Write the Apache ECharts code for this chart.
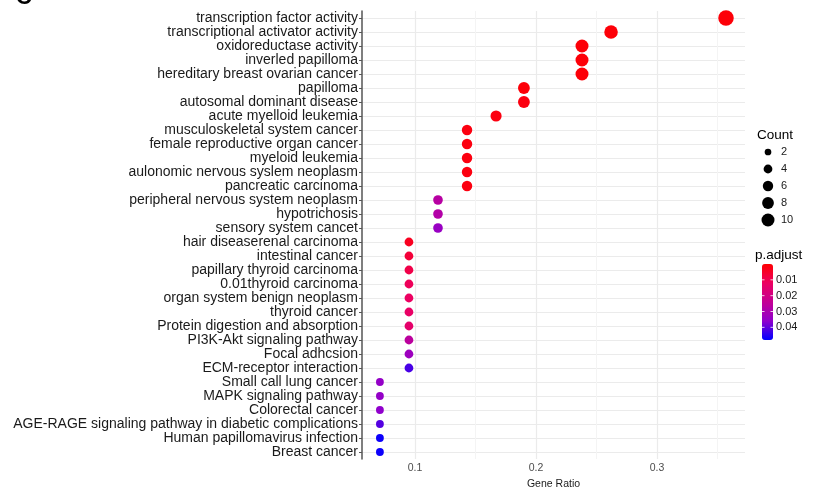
<!DOCTYPE html>
<html>
<head>
<meta charset="utf-8">
<script src="https://cdn.jsdelivr.net/npm/echarts@6/dist/echarts.min.js"></script>
<style>
html,body{margin:0;padding:0;background:#fff;}
#chart{width:813px;height:489px;}
</style>
</head>
<body>
<div id="chart"></div>
<script>
const categories = [
  "transcription factor activity",
  "transcriptional activator activity",
  "oxidoreductase activity",
  "inverled papilloma",
  "hereditary breast ovarian cancer",
  "papilloma",
  "autosomal dominant disease",
  "acute myelloid leukemia",
  "musculoskeletal system cancer",
  "female reproductive organ cancer",
  "myeloid leukemia",
  "aulonomic nervous syslem neoplasm",
  "pancreatic carcinoma",
  "peripheral nervous system neoplasm",
  "hypotrichosis",
  "sensory system cancet",
  "hair diseaserenal carcinoma",
  "intestinal cancer",
  "papillary thyroid carcinoma",
  "0.01thyroid carcinoma",
  "organ system benign neoplasm",
  "thyroid cancer",
  "Protein digestion and absorption",
  "PI3K-Akt signaling pathway",
  "Focal adhcsion",
  "ECM-receptor interaction",
  "Small call lung cancer",
  "MAPK signaling pathway",
  "Colorectal cancer",
  "AGE-RAGE signaling pathway in diabetic complications",
  "Human papillomavirus infection",
  "Breast cancer"
];
const geneRatio = [
  0.357, 0.262, 0.238, 0.238, 0.238, 0.190, 0.190, 0.167,
  0.143, 0.143, 0.143, 0.143, 0.143,
  0.119, 0.119, 0.119,
  0.095, 0.095, 0.095, 0.095, 0.095, 0.095, 0.095, 0.095, 0.095, 0.095,
  0.071, 0.071, 0.071, 0.071, 0.071, 0.071
];
const counts = [
  15, 11, 10, 10, 10, 8, 8, 7,
  6, 6, 6, 6, 6,
  5, 5, 5,
  4, 4, 4, 4, 4, 4, 4, 4, 4, 4,
  3, 3, 3, 3, 3, 3
];
const pAdjust = [
  0.001, 0.001, 0.001, 0.001, 0.001, 0.001, 0.002, 0.002,
  0.002, 0.002, 0.002, 0.002, 0.002,
  0.027, 0.028, 0.034,
  0.004, 0.007, 0.009, 0.011, 0.012, 0.013, 0.014, 0.026, 0.033, 0.042,
  0.035, 0.035, 0.036, 0.041, 0.047, 0.047
];
const xTicks = [0.1, 0.2, 0.3];
const xMinorTicks = [0.15, 0.25, 0.35];
const countBreaks = [2, 4, 6, 8, 10];
const pTicks = [0.01, 0.02, 0.03, 0.04];

const FONT = "'Liberation Sans', Arial, Helvetica, sans-serif";
const sizeOf = c => 1.6 + 3.6 * Math.sqrt(c);
const X_MIN = 0.0562, X_MAX = 0.3727;
const P_MIN = 0, P_MAX = 0.048;

const chart = echarts.init(document.getElementById('chart'), null, {renderer: 'canvas'});

const graphics = [];
// cut-off panel letter at top-left
graphics.push({type: 'text', x: 16, y: 9, style: {text: 'C', font: 'bold 22px ' + FONT, fill: '#000', verticalAlign: 'bottom'}});
// Count legend
graphics.push({type: 'text', x: 757, y: 135, style: {text: 'Count', font: '13.5px ' + FONT, fill: '#000', verticalAlign: 'middle'}});
const countY = [152, 169, 186, 203, 220];
countBreaks.forEach((c, i) => {
  graphics.push({type: 'circle', shape: {cx: 768, cy: countY[i], r: sizeOf(c) / 2}, style: {fill: '#000'}});
  graphics.push({type: 'text', x: 781, y: countY[i], style: {text: String(c), font: '11px ' + FONT, fill: '#1a1a1a', verticalAlign: 'middle'}});
});
// p.adjust legend
graphics.push({type: 'text', x: 755, y: 255, style: {text: 'p.adjust', font: '13.5px ' + FONT, fill: '#000', verticalAlign: 'middle'}});
const barTop = 264, barH = 76;
pTicks.forEach(p => {
  const y = barTop + (p - P_MIN) / (P_MAX - P_MIN) * barH;
  graphics.push({type: 'text', x: 776, y: y, style: {text: p.toFixed(2), font: '11px ' + FONT, fill: '#1a1a1a', verticalAlign: 'middle'}});
  graphics.push({type: 'line', shape: {x1: 762, y1: y, x2: 764.5, y2: y}, style: {stroke: '#fff', lineWidth: 0.8}, z: 100});
  graphics.push({type: 'line', shape: {x1: 770.5, y1: y, x2: 773, y2: y}, style: {stroke: '#fff', lineWidth: 0.8}, z: 100});
});

const option = {
  backgroundColor: '#fff',
  animation: false,
  grid: {left: 362, right: 68, top: 11, bottom: 30, containLabel: false, outerBoundsMode: 'none'},
  xAxis: [
    {
      type: 'value', min: X_MIN, max: X_MAX,
      axisLine: {show: false},
      axisTick: {show: false, customValues: xTicks},
      axisLabel: {customValues: xTicks, fontSize: 10.5, color: '#4d4d4d', margin: 4, fontFamily: FONT,
        formatter: v => v.toFixed(1)},
      splitLine: {show: true, lineStyle: {color: '#ebebeb', width: 1.2}},
      name: 'Gene Ratio', nameLocation: 'middle', nameGap: 18,
      nameTextStyle: {fontSize: 10.5, color: '#1a1a1a', fontFamily: FONT}
    },
    {
      type: 'value', min: X_MIN, max: X_MAX, position: 'bottom',
      axisLine: {show: false},
      axisTick: {show: false, customValues: xMinorTicks},
      axisLabel: {show: false, customValues: xMinorTicks},
      splitLine: {show: true, lineStyle: {color: '#f4f4f4', width: 1}}
    }
  ],
  yAxis: {
    type: 'category', data: categories, inverse: true,
    axisLine: {show: true, lineStyle: {color: '#555', width: 1.5}},
    axisTick: {show: true, length: 3, alignWithLabel: true, lineStyle: {color: '#555'}},
    axisLabel: {interval: 0, fontSize: 14, color: '#1a1a1a', margin: 4, fontFamily: FONT},
    splitLine: {show: true, alignWithLabel: true, lineStyle: {color: '#ebebeb', width: 1}}
  },
  visualMap: {
    type: 'continuous', min: P_MIN, max: P_MAX, dimension: 3, seriesIndex: 0,
    inverse: true, calculable: false, text: null, padding: 0,
    left: 762, top: barTop, itemWidth: 11, itemHeight: barH,
    inRange: {color: ['#FF0000', '#EC0061', '#C40094', '#9000CC', '#0000FF']}
  },
  series: [{
    type: 'scatter', xAxisIndex: 0,
    data: categories.map((c, i) => [geneRatio[i], c, counts[i], pAdjust[i]]),
    symbol: 'circle',
    symbolSize: v => sizeOf(v[2]),
    itemStyle: {opacity: 1}
  }],
  graphic: graphics
};
chart.setOption(option);
</script>
</body>
</html>
